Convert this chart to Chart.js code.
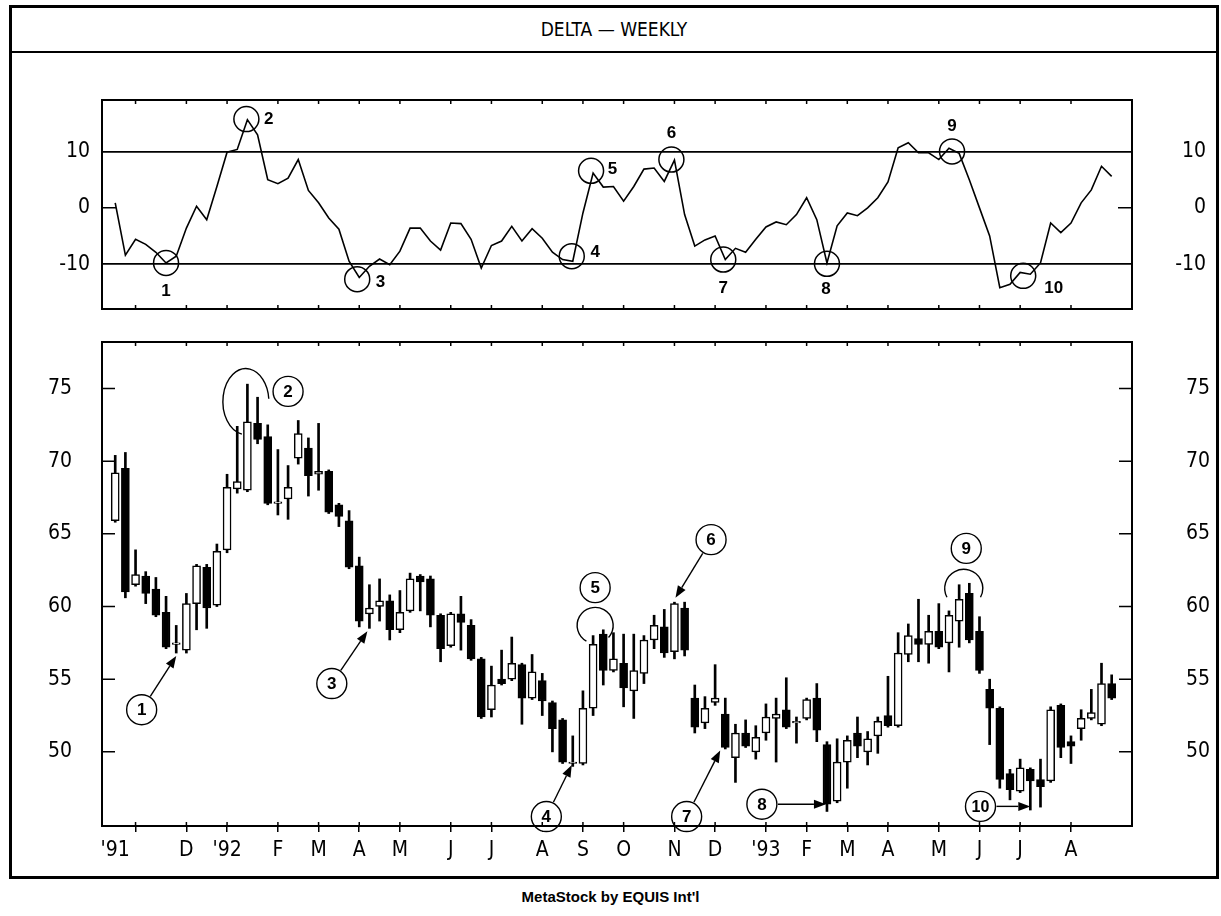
<!DOCTYPE html>
<html>
<head>
<meta charset="utf-8">
<script src="https://cdn.jsdelivr.net/npm/chart.js@4.4.1/dist/chart.umd.min.js"></script>
<style>
  html, body { margin: 0; padding: 0; background: #fff; }
  body { width: 1221px; height: 916px; position: relative; overflow: hidden; font-family: 'Liberation Sans', Arial, sans-serif; }
  #frame { position: absolute; left: 9px; top: 5px; width: 1204px; height: 868px; border: 3px solid #000; }
  #title { position: absolute; left: 0; top: 0; right: 0; height: 43px; line-height: 43px; border-bottom: 2px solid #000;
           text-align: center; font-family: 'Liberation Sans Narrow', 'DejaVu Sans Condensed', sans-serif; font-size: 19px; }
  canvas { position: absolute; }
  #osc { left: 20px; top: 86px; }
  #price { left: 20px; top: 327px; }
  #footer { position: absolute; left: 0; width: 1221px; top: 888px; text-align: center; font-weight: bold; font-size: 15px; }
</style>
</head>
<body>
<div id="frame"><div id="title">DELTA — WEEKLY</div></div>
<canvas id="osc" width="1195" height="237"></canvas>
<canvas id="price" width="1195" height="548"></canvas>
<div id="footer">MetaStock by EQUIS Int'l</div>

<script>
// weekly bars, Oct 1991 - Sep 1993
const weekOpen = [65.9, 69.5, 61.5, 62.1, 61.2, 59.6, 57.4, 57.0, 60.2, 62.7,
    60.1, 63.9, 68.1, 68.0, 72.6, 71.7, 67.1, 67.4, 70.2, 70.9,
    69.1, 69.3, 67.0, 65.9, 62.8, 59.5, 60.0, 60.4, 58.4, 59.7,
    62.1, 61.9, 59.4, 57.3, 59.5, 58.7, 56.4, 52.9, 55.0, 55.0,
    56.0, 53.7, 54.9, 53.4, 52.2, 49.2, 49.2, 53.0, 58.1, 55.6,
    56.1, 54.2, 55.4, 57.7, 58.6, 56.9, 59.9, 53.7, 52.0, 53.4,
    52.6, 49.6, 51.3, 50.0, 51.3, 52.3, 52.9, 52.0, 52.3, 53.7,
    50.5, 46.6, 49.3, 51.3, 50.0, 51.1, 52.5, 51.8, 56.7, 57.8,
    57.4, 58.3, 57.5, 59.0, 60.9, 58.3, 54.3, 53.0, 48.5, 47.3,
    48.8, 48.1, 48.0, 53.2, 50.7, 51.6, 52.3, 51.9, 54.7];
const weekHigh = [70.4, 70.6, 63.9, 62.4, 62.0, 60.7, 58.7, 60.9, 62.9, 62.9,
    64.3, 69.1, 72.4, 75.3, 74.4, 72.5, 70.8, 69.7, 72.8, 71.6,
    72.6, 69.4, 67.1, 66.6, 63.4, 61.5, 61.9, 60.8, 61.1, 62.3,
    62.2, 62.1, 59.5, 59.6, 60.7, 59.1, 56.5, 55.9, 57.0, 57.9,
    56.1, 56.7, 55.4, 53.5, 52.3, 51.1, 54.2, 58.0, 58.4, 58.2,
    58.1, 58.1, 58.0, 59.4, 59.8, 60.3, 60.3, 54.6, 53.8, 56.0,
    53.7, 51.9, 52.2, 51.8, 53.3, 53.7, 55.1, 52.4, 53.7, 54.7,
    50.7, 50.9, 51.1, 52.4, 51.4, 52.4, 55.2, 58.2, 58.8, 60.5,
    59.4, 60.2, 59.7, 61.5, 61.6, 59.3, 55.0, 53.1, 48.8, 49.5,
    48.9, 49.5, 53.1, 53.3, 51.1, 52.9, 54.3, 56.1, 55.3];
const weekLow = [65.8, 60.6, 61.4, 60.2, 59.3, 57.1, 56.8, 56.8, 58.4, 58.5,
    60.0, 63.7, 67.8, 67.9, 71.2, 67.0, 66.3, 66.0, 69.8, 67.6,
    68.0, 66.4, 65.5, 62.6, 58.6, 58.5, 59.0, 57.7, 58.2, 59.6,
    59.7, 58.6, 56.2, 57.2, 57.0, 56.3, 52.3, 52.4, 54.6, 54.9,
    51.9, 53.6, 52.5, 50.0, 49.2, 49.0, 49.1, 52.5, 54.6, 55.5,
    53.1, 52.3, 54.7, 57.1, 56.5, 56.4, 56.6, 51.3, 51.6, 53.2,
    50.2, 47.9, 50.3, 49.5, 50.8, 49.3, 51.6, 50.6, 52.2, 50.7,
    45.9, 46.5, 47.5, 49.6, 49.1, 49.9, 51.7, 51.7, 56.2, 56.2,
    56.1, 57.1, 55.5, 57.2, 57.5, 55.4, 50.5, 47.5, 46.7, 47.2,
    46.0, 46.2, 47.9, 49.6, 49.2, 50.8, 52.2, 51.8, 53.6];
const weekClose = [69.2, 61.0, 62.2, 60.9, 59.4, 57.2, 57.5, 60.2, 62.8, 59.9,
    63.8, 68.2, 68.6, 72.7, 71.5, 67.1, 67.2, 68.2, 71.9, 69.0,
    69.3, 66.5, 66.2, 62.7, 59.0, 59.9, 60.4, 58.4, 59.6, 61.9,
    61.7, 59.4, 57.1, 59.5, 58.9, 56.4, 52.4, 54.6, 54.7, 56.1,
    53.7, 55.5, 53.5, 51.6, 49.3, 49.3, 53.0, 57.4, 55.6, 56.4,
    54.4, 55.6, 57.7, 58.7, 56.8, 60.2, 57.0, 51.7, 53.0, 53.7,
    50.3, 51.3, 50.4, 51.0, 52.4, 52.6, 51.7, 52.1, 53.6, 51.5,
    46.4, 49.3, 50.8, 50.4, 50.9, 52.1, 51.8, 56.8, 58.0, 57.4,
    58.3, 57.2, 59.4, 60.5, 57.7, 55.6, 53.0, 48.1, 47.4, 48.9,
    48.0, 47.6, 52.9, 50.3, 50.4, 52.3, 52.7, 54.7, 53.7];

// oscillator in the upper panel, one value per week
const oscillator = [0.9, -8.4, -5.6, -6.5, -7.9, -9.8, -8.6, -3.6, 0.3, -2.1,
    3.8, 9.9, 10.4, 15.7, 13.0, 5.0, 4.3, 5.3, 8.6, 3.1,
    0.9, -1.8, -3.8, -9.5, -12.4, -10.4, -9.1, -10.1, -7.7, -3.6,
    -3.6, -5.9, -7.5, -2.7, -2.8, -5.6, -10.7, -6.7, -5.9, -3.3,
    -5.9, -3.7, -5.4, -7.9, -9.2, -9.5, -0.9, 6.2, 3.7, 3.8,
    1.2, 3.8, 6.9, 7.1, 4.7, 8.5, -1.2, -6.8, -5.7, -5.0,
    -9.2, -7.2, -7.9, -5.6, -3.4, -2.5, -3.0, -1.2, 1.8, -2.1,
    -9.8, -3.2, -0.9, -1.4, 0.0, 1.8, 4.6, 10.7, 11.6, 9.8,
    9.8, 8.6, 10.6, 9.7, 5.0, 0.0, -5.0, -14.2, -13.6, -11.5,
    -11.8, -9.8, -2.7, -4.4, -2.7, 0.9, 3.2, 7.4, 5.6];

// month ticks (week index of the first bar of each month)
const tickWeeks = [0, 2, 7, 11, 16, 20, 24, 28, 33, 37, 42, 46, 50, 55, 59, 64, 68, 72, 76, 81, 85, 89, 94];
const tickLabels = ["'91", '', 'D', "'92", 'F', 'M', 'A', 'M', 'J', 'J', 'A', 'S', 'O', 'N', 'D', "'93", 'F', 'M', 'A', 'M', 'J', 'J', 'A'];
const priceTicks = [50, 55, 60, 65, 70, 75];
const oscTicks = [-10, 0, 10];

// numbered signals on the oscillator: circle on the line, number beside it
const oscSignals = [
    { n: '1', week: 5.0, value: -9.8, labelWeek: 5.0, labelValue: -14.8 },
    { n: '2', week: 12.9, value: 15.8, labelWeek: 15.1, labelValue: 15.8 },
    { n: '3', week: 23.8, value: -12.7, labelWeek: 26.1, labelValue: -13.3 },
    { n: '4', week: 44.9, value: -8.6, labelWeek: 47.2, labelValue: -7.9 },
    { n: '5', week: 46.8, value: 6.6, labelWeek: 48.9, labelValue: 6.9 },
    { n: '6', week: 54.7, value: 8.6, labelWeek: 54.7, labelValue: 13.2 },
    { n: '7', week: 59.8, value: -9.2, labelWeek: 59.8, labelValue: -14.3 },
    { n: '8', week: 70.0, value: -9.95, labelWeek: 69.9, labelValue: -14.5 },
    { n: '9', week: 82.3, value: 10.05, labelWeek: 82.3, labelValue: 14.5 },
    { n: '10', week: 89.3, value: -12.1, labelWeek: 92.3, labelValue: -14.4 }
];

// circled numbers on the price panel, some with an arrow to a bar
const priceCallouts = [
    { n: '1', week: 2.6, price: 52.9, toWeek: 6, toPrice: 56.6 },
    { n: '2', week: 17.0, price: 74.8 },
    { n: '3', week: 21.3, price: 54.7, toWeek: 24.8, toPrice: 58.3 },
    { n: '4', week: 42.4, price: 45.55, toWeek: 44.9, toPrice: 49.1 },
    { n: '5', week: 47.2, price: 61.3 },
    { n: '6', week: 58.6, price: 64.6, toWeek: 55.1, toPrice: 60.6 },
    { n: '7', week: 56.2, price: 45.55, toWeek: 59.5, toPrice: 50.1 },
    { n: '8', week: 63.6, price: 46.4, toWeek: 69.9, toPrice: 46.4 },
    { n: '9', week: 83.7, price: 64.0 },
    { n: '10', week: 85.1, price: 46.25, toWeek: 90, toPrice: 46.25 }
];
const peakArcs = [
    { week: 12.85, price: 74.1, rx: 23, ry: 33, from: 100, to: 355 },
    { week: 47.2, price: 58.7, rx: 18, ry: 18, from: 119, to: 402 },
    { week: 83.45, price: 61.25, rx: 19, ry: 19, from: 152, to: 388 }
];

const xMin = -1.3;
const xMax = 100;
const axisFont = { family: "'Liberation Sans Narrow', 'DejaVu Sans Condensed', sans-serif", size: 21 };
const noteFont = "bold 17px 'Liberation Sans', Arial, sans-serif";
const clear = 'rgba(0,0,0,0)';

function fixedTicks(values) {
    return scale => { scale.ticks = values.map(v => ({ value: v })); };
}

// label offset from the panel is done with an invisible tick mark, so the
// tick padding (which also pads the axis vertically) can stay at zero
function sideAxis(position, min, max, values, width, gap) {
    return {
        position: position,
        min: min, max: max,
        afterBuildTicks: fixedTicks(values),
        afterFit: s => { s.width = width; },
        grid: { drawOnChartArea: false, drawTicks: true, tickLength: gap, tickColor: clear, color: clear },
        border: { display: false },
        ticks: { font: axisFont, color: '#000', padding: 0, crossAlign: position === 'right' ? 'far' : 'near' }
    };
}

// panel frame plus the small inward tick marks on its edges
const panelFrame = {
    id: 'panelFrame',
    afterDraw(chart, args, opts) {
        const { ctx, chartArea: a, scales } = chart;
        ctx.save();
        ctx.strokeStyle = '#000';
        ctx.lineWidth = 2;
        ctx.strokeRect(a.left, a.top, a.width, a.height);
        ctx.lineWidth = 1.5;
        ctx.beginPath();
        opts.yMarks.forEach(v => {
            const y = scales.y.getPixelForValue(v);
            ctx.moveTo(a.left, y); ctx.lineTo(a.left + opts.markLength, y);
            ctx.moveTo(a.right, y); ctx.lineTo(a.right - opts.markLength, y);
        });
        tickWeeks.forEach((w, i) => {
            if (i === 0) return;
            const x = scales.x.getPixelForValue(w);
            ctx.moveTo(x, a.top); ctx.lineTo(x, a.top + 4);
            ctx.moveTo(x, a.bottom); ctx.lineTo(x, a.bottom - 4);
        });
        ctx.stroke();
        ctx.restore();
    }
};

const oscNotes = {
    id: 'oscNotes',
    afterDatasetsDraw(chart) {
        const { ctx, scales: { x, y } } = chart;
        ctx.save();
        ctx.strokeStyle = '#000';
        ctx.fillStyle = '#000';
        ctx.lineWidth = 1.5;
        ctx.font = noteFont;
        ctx.textAlign = 'center';
        ctx.textBaseline = 'middle';
        oscSignals.forEach(s => {
            ctx.beginPath();
            ctx.arc(x.getPixelForValue(s.week), y.getPixelForValue(s.value), 12.5, 0, Math.PI * 2);
            ctx.stroke();
            ctx.fillText(s.n, x.getPixelForValue(s.labelWeek), y.getPixelForValue(s.labelValue));
        });
        ctx.restore();
    }
};

const priceNotes = {
    id: 'priceNotes',
    afterDatasetsDraw(chart) {
        const { ctx, scales: { x, y } } = chart;
        const r = 15;
        ctx.save();
        ctx.strokeStyle = '#000';
        ctx.fillStyle = '#000';
        ctx.lineWidth = 1.4;

        peakArcs.forEach(p => {
            ctx.beginPath();
            ctx.ellipse(x.getPixelForValue(p.week), y.getPixelForValue(p.price), p.rx, p.ry, 0,
                p.from * Math.PI / 180, p.to * Math.PI / 180);
            ctx.stroke();
        });

        priceCallouts.forEach(c => {
            const cx = x.getPixelForValue(c.week);
            const cy = y.getPixelForValue(c.price);
            if (c.toWeek !== undefined) {
                const tx = x.getPixelForValue(c.toWeek);
                const ty = y.getPixelForValue(c.toPrice);
                const len = Math.hypot(tx - cx, ty - cy);
                const ux = (tx - cx) / len, uy = (ty - cy) / len;
                const head = 12, half = 4.5;
                ctx.beginPath();
                ctx.moveTo(cx + ux * (r + 1), cy + uy * (r + 1));
                ctx.lineTo(tx - ux * head, ty - uy * head);
                ctx.stroke();
                ctx.beginPath();
                ctx.moveTo(tx, ty);
                ctx.lineTo(tx - ux * head - uy * half, ty - uy * head + ux * half);
                ctx.lineTo(tx - ux * head + uy * half, ty - uy * head - ux * half);
                ctx.closePath();
                ctx.fill();
            }
            ctx.beginPath();
            ctx.arc(cx, cy, r, 0, Math.PI * 2);
            ctx.fillStyle = '#fff';
            ctx.fill();
            ctx.stroke();
            ctx.fillStyle = '#000';
            ctx.font = c.n.length > 1 ? "bold 16px 'Liberation Sans', Arial, sans-serif" : noteFont;
            ctx.textAlign = 'center';
            ctx.textBaseline = 'middle';
            ctx.fillText(c.n, cx, cy + 1);
        });
        ctx.restore();
    }
};

const weeks = weekOpen.map((_, i) => i);

const oscLeft = sideAxis('left', -18, 19.2, oscTicks, 82, 12);
oscLeft.grid = {
    drawTicks: true, tickLength: 12, tickColor: clear,
    color: c => (c.tick && c.tick.value === 0) ? clear : '#000',
    lineWidth: 1.8
};

new Chart(document.getElementById('osc'), {
    type: 'line',
    data: {
        datasets: [{
            data: weeks.map(i => ({ x: i, y: oscillator[i] })),
            borderColor: '#000',
            borderWidth: 1.6,
            pointRadius: 0,
            tension: 0
        }]
    },
    options: {
        responsive: false,
        animation: false,
        layout: { padding: { top: 14, bottom: 14, left: 0, right: 9 } },
        plugins: {
            legend: { display: false },
            tooltip: { enabled: false },
            panelFrame: { yMarks: [0], markLength: 14 }
        },
        scales: {
            x: { type: 'linear', min: xMin, max: xMax, offset: false, display: false },
            y: oscLeft,
            y2: sideAxis('right', -18, 19.2, oscTicks, 74, 0)
        }
    },
    plugins: [panelFrame, oscNotes]
});

new Chart(document.getElementById('price'), {
    type: 'bar',
    data: {
        datasets: [
            {
                label: 'body',
                data: weeks.map(i => ({ x: i, y: [weekOpen[i], weekClose[i]] })),
                backgroundColor: weeks.map(i => weekClose[i] >= weekOpen[i] ? '#fff' : '#000'),
                borderColor: '#000',
                borderWidth: 1.5,
                borderSkipped: false,
                barThickness: 8,
                grouped: false,
                order: 0
            },
            {
                label: 'range',
                data: weeks.map(i => ({ x: i, y: [weekLow[i], weekHigh[i]] })),
                backgroundColor: '#000',
                borderWidth: 0,
                barThickness: 2,
                grouped: false,
                order: 1
            }
        ]
    },
    options: {
        responsive: false,
        animation: false,
        layout: { padding: { top: 15, bottom: 0, left: 0, right: 5 } },
        plugins: {
            legend: { display: false },
            tooltip: { enabled: false },
            panelFrame: { yMarks: priceTicks, markLength: 13 }
        },
        scales: {
            x: {
                type: 'linear', min: xMin, max: xMax,
                offset: false,
                afterBuildTicks: fixedTicks(tickWeeks),
                afterFit: s => { s.height = 49; },
                grid: {
                    offset: false,
                    drawOnChartArea: false,
                    tickLength: 6,
                    lineWidth: 1.5,
                    tickColor: c => c.index === 0 ? clear : '#000'
                },
                border: { display: false },
                ticks: {
                    font: axisFont, color: '#000', padding: 6,
                    autoSkip: false, maxRotation: 0,
                    callback: (v, i) => tickLabels[i]
                }
            },
            y: sideAxis('left', 44.9, 78.2, priceTicks, 82, 30),
            y2: sideAxis('right', 44.9, 78.2, priceTicks, 78, 0)
        }
    },
    plugins: [panelFrame, priceNotes]
});
</script>
</body>
</html>
